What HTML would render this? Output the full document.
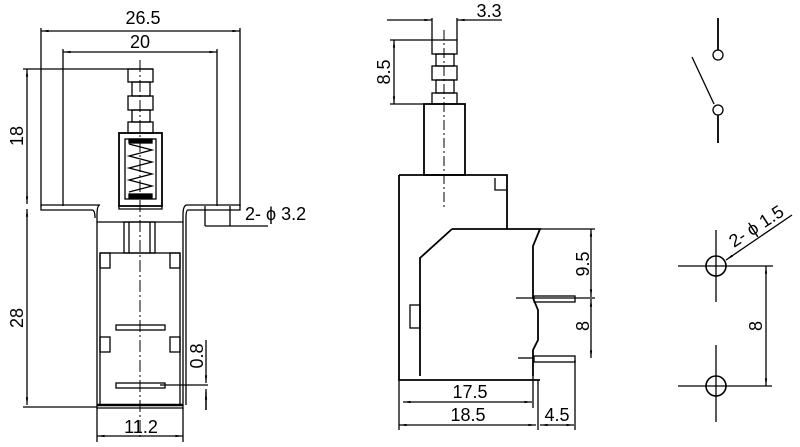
<!DOCTYPE html>
<html><head><meta charset="utf-8"><style>
html,body{margin:0;padding:0;background:#fff;}
svg{display:block}
text{font-family:"Liberation Sans",sans-serif;font-size:18px;fill:#000}
</style></head><body>
<svg width="800" height="447" viewBox="0 0 800 447" xmlns="http://www.w3.org/2000/svg">
<defs>
<marker id="a" viewBox="0 0 10 6" refX="10" refY="3" markerWidth="7" markerHeight="3.5" orient="auto-start-reverse"><path d="M0,1.5L10,3L0,4.5z" fill="#000"/></marker>
</defs>
<g stroke="#000" stroke-width="1.3" fill="none">
<line x1="41" y1="31" x2="240" y2="31" marker-start="url(#a)" marker-end="url(#a)"/>
<line x1="63" y1="52" x2="217" y2="52" marker-start="url(#a)" marker-end="url(#a)"/>
<line x1="41" y1="28" x2="41" y2="206"/>
<line x1="240" y1="28" x2="240" y2="206"/>
<line x1="63" y1="49" x2="63" y2="206"/>
<line x1="217" y1="49" x2="217" y2="206"/>
<line x1="23" y1="69" x2="153" y2="69"/>
<line x1="27" y1="69" x2="27" y2="204" marker-start="url(#a)" marker-end="url(#a)"/>
<line x1="27" y1="209" x2="27" y2="405" marker-start="url(#a)" marker-end="url(#a)"/>
<line x1="23" y1="407" x2="97" y2="407"/>
<line x1="97" y1="408" x2="97" y2="442"/>
<line x1="183" y1="408" x2="183" y2="442"/>
<line x1="97" y1="436" x2="183" y2="436" marker-start="url(#a)" marker-end="url(#a)"/>
<line x1="160" y1="385" x2="208" y2="385"/>
<line x1="206" y1="340" x2="206" y2="383" marker-end="url(#a)"/>
<line x1="206" y1="410" x2="206" y2="392" marker-end="url(#a)"/>
<line x1="206" y1="389" x2="206" y2="410"/>
<line x1="205" y1="206" x2="205" y2="226"/>
<line x1="230" y1="206" x2="230" y2="226"/>
<line x1="205" y1="226" x2="268" y2="226"/>
<rect x="128" y="69" width="25" height="13"/>
<rect x="132" y="82" width="18" height="14"/>
<rect x="128" y="96" width="25" height="14"/>
<rect x="132" y="110" width="18" height="12"/>
<rect x="128" y="122" width="25" height="11"/>
<rect x="119" y="133" width="43" height="73" stroke-width="1.8"/>
<rect x="125" y="139" width="31" height="60"/>
<rect x="129" y="139" width="23" height="4" fill="#000"/>
<rect x="129" y="194" width="23" height="4" fill="#000"/>
<polyline points="129,144 152,150 129,156 152,162 129,168 152,174 129,180 152,186 129,192"/>
<path d="M41,205 H100 Q97,205 97,215 V408 H183 V215 Q183,205 187,205 H240 V210 H188 Q186,210 186,218 V405"/>
<path d="M41,205 V210 H92 Q95,210 95,218"/>
<path d="M119,205 V209 H162 V205"/>
<line x1="97" y1="222" x2="183" y2="222"/>
<rect x="124" y="222" width="31" height="31"/>
<line x1="129" y1="222" x2="129" y2="253"/><line x1="150" y1="222" x2="150" y2="253"/>
<rect x="100" y="253" width="80" height="152"/>
<rect x="100" y="253" width="10" height="15"/><rect x="170" y="253" width="10" height="15"/>
<rect x="100" y="337" width="10" height="15"/><rect x="170" y="337" width="10" height="15"/>
<line x1="97" y1="405" x2="183" y2="405" stroke-width="2.5"/>
<rect x="116" y="325" width="49" height="5"/>
<rect x="116" y="383" width="49" height="5"/>
<line x1="140" y1="60" x2="140" y2="440" stroke-dasharray="12,3,2,3" stroke-width="1"/>
<line x1="387" y1="20" x2="432" y2="20" marker-end="url(#a)"/>
<line x1="502" y1="20" x2="457" y2="20" marker-end="url(#a)"/>
<line x1="432" y1="18" x2="432" y2="40"/><line x1="457" y1="18" x2="457" y2="40"/>
<line x1="390" y1="40" x2="432" y2="40"/><line x1="390" y1="104" x2="424" y2="104"/>
<line x1="394" y1="40" x2="394" y2="104" marker-start="url(#a)" marker-end="url(#a)"/>
<rect x="432" y="40" width="25" height="14"/>
<rect x="436" y="54" width="18" height="12"/>
<rect x="432" y="66" width="25" height="14"/>
<rect x="436" y="80" width="18" height="13"/>
<rect x="432" y="93" width="25" height="11"/>
<rect x="424" y="104" width="41" height="71" stroke-width="1.8"/>
<line x1="444" y1="30" x2="444" y2="210" stroke-dasharray="10,3,2,3" stroke-width="1"/>
<path d="M399,175 H507 V229" stroke-width="1.8"/>
<path d="M495,178 V190 H506"/>
<path d="M399,175 V380 H540" stroke-width="1.8"/>
<path d="M452,229 H540 L533,246 V298 L538,310 V340 L533,350 V376 M452,229 L420,258 V376" stroke-width="1.8"/>
<line x1="540" y1="229" x2="595" y2="229"/>
<rect x="410" y="305" width="10" height="23"/>
<rect x="534" y="296" width="41" height="6"/>
<rect x="534" y="356" width="41" height="6"/>
<line x1="516" y1="298" x2="595" y2="298"/>
<line x1="518" y1="358" x2="534" y2="358"/>
<line x1="591" y1="229" x2="591" y2="297" marker-start="url(#a)" marker-end="url(#a)"/>
<line x1="591" y1="299" x2="591" y2="358" marker-start="url(#a)" marker-end="url(#a)"/>
<line x1="533" y1="376" x2="533" y2="408"/>
<line x1="538" y1="380" x2="538" y2="430"/>
<line x1="575" y1="360" x2="575" y2="430"/>
<line x1="403" y1="402" x2="532" y2="402" marker-start="url(#a)" marker-end="url(#a)"/>
<line x1="399" y1="380" x2="399" y2="430"/>
<line x1="399" y1="425" x2="536" y2="425" marker-start="url(#a)" marker-end="url(#a)"/>
<line x1="540" y1="425" x2="574" y2="425" marker-start="url(#a)" marker-end="url(#a)"/>
<line x1="718" y1="18" x2="718" y2="50" stroke-width="1.8"/>
<circle cx="718" cy="55" r="5"/>
<line x1="692" y1="57" x2="714" y2="104"/>
<circle cx="718" cy="110" r="5"/>
<line x1="718" y1="115" x2="718" y2="143" stroke-width="1.8"/>
<circle cx="716" cy="266" r="10" stroke-width="1.6"/>
<line x1="678" y1="266" x2="773" y2="266"/><line x1="716" y1="230" x2="716" y2="302"/>
<circle cx="716" cy="386" r="10" stroke-width="1.6"/>
<line x1="678" y1="386" x2="772" y2="386"/><line x1="716" y1="345" x2="716" y2="422"/>
<line x1="766" y1="266" x2="766" y2="386" marker-start="url(#a)" marker-end="url(#a)"/>
<line x1="792" y1="215" x2="726" y2="260" marker-end="url(#a)"/>
</g>
<text x="143" y="24" text-anchor="middle">26.5</text>
<text x="140" y="48" text-anchor="middle">20</text>
<text transform="translate(23,136) rotate(-90)" text-anchor="middle">18</text>
<text transform="translate(23,318) rotate(-90)" text-anchor="middle">28</text>
<text x="141" y="433" text-anchor="middle">11.2</text>
<text transform="translate(203,356) rotate(-90)" text-anchor="middle">0.8</text>
<text x="245" y="220">2- ϕ 3.2</text>
<text x="489" y="17" text-anchor="middle">3.3</text>
<text transform="translate(390,72) rotate(-90)" text-anchor="middle">8.5</text>
<text transform="translate(589,264) rotate(-90)" text-anchor="middle">9.5</text>
<text transform="translate(589,326) rotate(-90)" text-anchor="middle">8</text>
<text x="470" y="398" text-anchor="middle">17.5</text>
<text x="468" y="421" text-anchor="middle">18.5</text>
<text x="557" y="421" text-anchor="middle">4.5</text>
<text transform="translate(762,326) rotate(-90)" text-anchor="middle">8</text>
<text transform="translate(734,248) rotate(-33)">2- ϕ 1.5</text>
</svg>
</body></html>
